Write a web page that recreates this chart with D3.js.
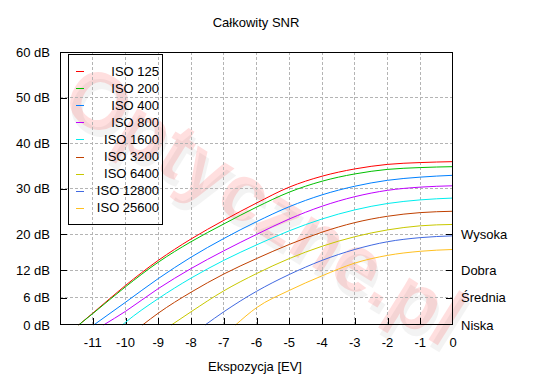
<!DOCTYPE html>
<html><head><meta charset="utf-8">
<script src="https://cdn.jsdelivr.net/npm/d3@7"></script>
<style>
body{margin:0;background:#fff}
svg{display:block}
text{font-family:"Liberation Sans",Arial,sans-serif;font-size:13px;fill:#000}
</style>
</head><body><svg id="c" width="550" height="380"></svg>
<script>
const evTicks = [-11,-10,-9,-8,-7,-6,-5,-4,-3,-2,-1,0];
const dbTicks = [0,6,12,20,30,40,50,60];
const dbLabels = ["0 dB","6 dB","12 dB","20 dB","30 dB","40 dB","50 dB","60 dB"];
const qualityTicks = [20,12,6,0];
const qualityLabels = ["Wysoka","Dobra","Średnia","Niska"];
const isoLabels = ["ISO 125","ISO 200","ISO 400","ISO 800","ISO 1600","ISO 3200","ISO 6400","ISO 12800","ISO 25600"];
const isoColors = ["#ff0000","#00c000","#0080ff","#c000ff","#00eeee","#c04000","#c8c800","#4169e1","#ffc020"];
const startEV = [-11.43,-11.43,-10.97,-10.67,-10.1,-9.48,-8.6,-7.57,-6.64];
const snr125   = [2.6, 8.7, 14.2, 18.9, 23.0, 26.8, 30.3, 32.7, 34.3, 35.3, 35.7, 35.9];
const snr200   = [2.5, 8.4, 13.8, 18.3, 22.2, 25.9, 29.2, 31.6, 33.2, 34.2, 34.6, 34.8];
const snr400   = [null, 5.0, 10.2, 14.9, 19.0, 22.7, 26.0, 28.6, 30.5, 31.8, 32.5, 32.9];
const snr800   = [null, 3.0, 8.0, 12.4, 16.3, 19.9, 23.3, 26.1, 28.2, 29.6, 30.3, 30.6];
const snr1600  = [null, 0.6, 5.8, 10.3, 14.2, 17.6, 20.7, 23.3, 25.3, 26.7, 27.5, 27.9];
const snr3200  = [null, null, 2.6, 7.2, 11.2, 14.6, 17.7, 20.4, 22.5, 23.9, 24.7, 25.0];
const snr6400  = [null, null, null, 2.9, 7.5, 11.3, 14.6, 17.3, 19.4, 20.9, 21.8, 22.1];
const snr12800 = [null, null, null, null, 2.9, 7.4, 11.1, 14.2, 16.6, 18.3, 19.2, 19.6];
const snr25600 = [null, null, null, null, null, 3.8, 7.6, 10.8, 13.6, 15.3, 16.2, 16.6];
const allSeries = [snr125,snr200,snr400,snr800,snr1600,snr3200,snr6400,snr12800,snr25600];

const svg = d3.select("#c");
const L = 60, R = 453, T = 52, B = 325;
const x = d3.scaleLinear().domain([-12, 0]).range([L, R]);
const y = d3.scaleLinear().domain([0, 60]).range([B, T]);

// watermark
const wm = svg.append("g").attr("transform","translate(58,108) rotate(32)");
wm.append("text").attr("x",5).attr("y",5).text("Optyczne.pl")
  .style("font-size","80px").style("font-weight","bold").style("fill","#000").style("opacity",0.045);
wm.append("text").attr("x",0).attr("y",0).text("Optyczne.pl")
  .style("font-size","80px").style("font-weight","bold").style("fill","#ff0000").style("opacity",0.12);

// grid
const grid = svg.append("g").attr("shape-rendering","crispEdges")
  .attr("stroke","#b4b4b4").attr("stroke-dasharray","3,2").attr("stroke-width",1);
evTicks.filter(d => d > -12 && d < 0).forEach(d => {
  grid.append("line").attr("x1",x(d)).attr("x2",x(d)).attr("y1",T).attr("y2",B);
});
dbTicks.filter(d => d > 0 && d < 60).forEach(d => {
  grid.append("line").attr("x1",L).attr("x2",R).attr("y1",y(d)).attr("y2",y(d));
});

// axes (inward ticks)
const xAxis = d3.axisBottom(x).tickValues(evTicks.filter(d=>d<0)).tickSize(-7).tickFormat("");
svg.append("g").attr("transform",`translate(0,${B})`).call(xAxis)
  .call(g => g.select(".domain").remove()).selectAll("line").attr("shape-rendering","crispEdges");
const yAxis = d3.axisLeft(y).tickValues(dbTicks.filter(d=>d>0&&d<60)).tickSize(-7).tickFormat("");
svg.append("g").attr("transform",`translate(${L},0)`).call(yAxis)
  .call(g => g.select(".domain").remove()).selectAll("line").attr("shape-rendering","crispEdges");
const yAxisR = d3.axisRight(y).tickValues(qualityTicks.filter(d=>d>0)).tickSize(-7).tickFormat("");
svg.append("g").attr("transform",`translate(${R},0)`).call(yAxisR)
  .call(g => g.select(".domain").remove()).selectAll("line").attr("shape-rendering","crispEdges");

// tick labels
svg.append("g").selectAll("text").data(evTicks).join("text")
  .attr("x", d => x(d)).attr("y", B + 22).attr("text-anchor","middle").text(d => d === 0 ? "0" : "-" + Math.abs(d));
svg.append("g").selectAll("text").data(dbTicks).join("text")
  .attr("x", L - 10).attr("y", d => y(d) + 4.5).attr("text-anchor","end").text((d,i) => dbLabels[i]);
svg.append("g").selectAll("text").data(qualityTicks).join("text")
  .attr("x", R + 8).attr("y", d => y(d) + 4.5).attr("text-anchor","start").text((d,i) => qualityLabels[i]);

// curves
const line = d3.line().x(d => x(d[0])).y(d => y(d[1])).curve(d3.curveMonotoneX);
allSeries.forEach((vals, i) => {
  const pts = [[startEV[i], 0]];
  evTicks.forEach((e, j) => { if (vals[j] !== null) pts.push([e, vals[j]]); });
  svg.append("path").datum(pts).attr("d", line).attr("fill","none")
    .attr("stroke", isoColors[i]).attr("stroke-width", 1);
});

// frame
svg.append("rect").attr("x",L+0.5).attr("y",T+0.5).attr("width",R-L-1).attr("height",B-T-1)
  .attr("fill","none").attr("stroke","#000").attr("stroke-width",1);

// legend
const lg = svg.append("g");
lg.append("rect").attr("x",68.5).attr("y",54.5).attr("width",94).attr("height",170)
  .attr("fill","none").attr("stroke","#000").attr("stroke-width",1);
isoLabels.forEach((lab, i) => {
  const yy = 71 + i * 17.1;
  lg.append("line").attr("x1",76).attr("x2",84).attr("y1",Math.round(yy)+0.5).attr("y2",Math.round(yy)+0.5)
    .attr("stroke", isoColors[i]).attr("stroke-width",1);
  lg.append("text").attr("x",159).attr("y",yy+4.5).attr("text-anchor","end").text(lab);
});

// titles
svg.append("text").attr("x",256).attr("y",27).attr("text-anchor","middle").text("Całkowity SNR");
svg.append("text").attr("x",255).attr("y",371).attr("text-anchor","middle").text("Ekspozycja [EV]");
</script>
</body></html>
